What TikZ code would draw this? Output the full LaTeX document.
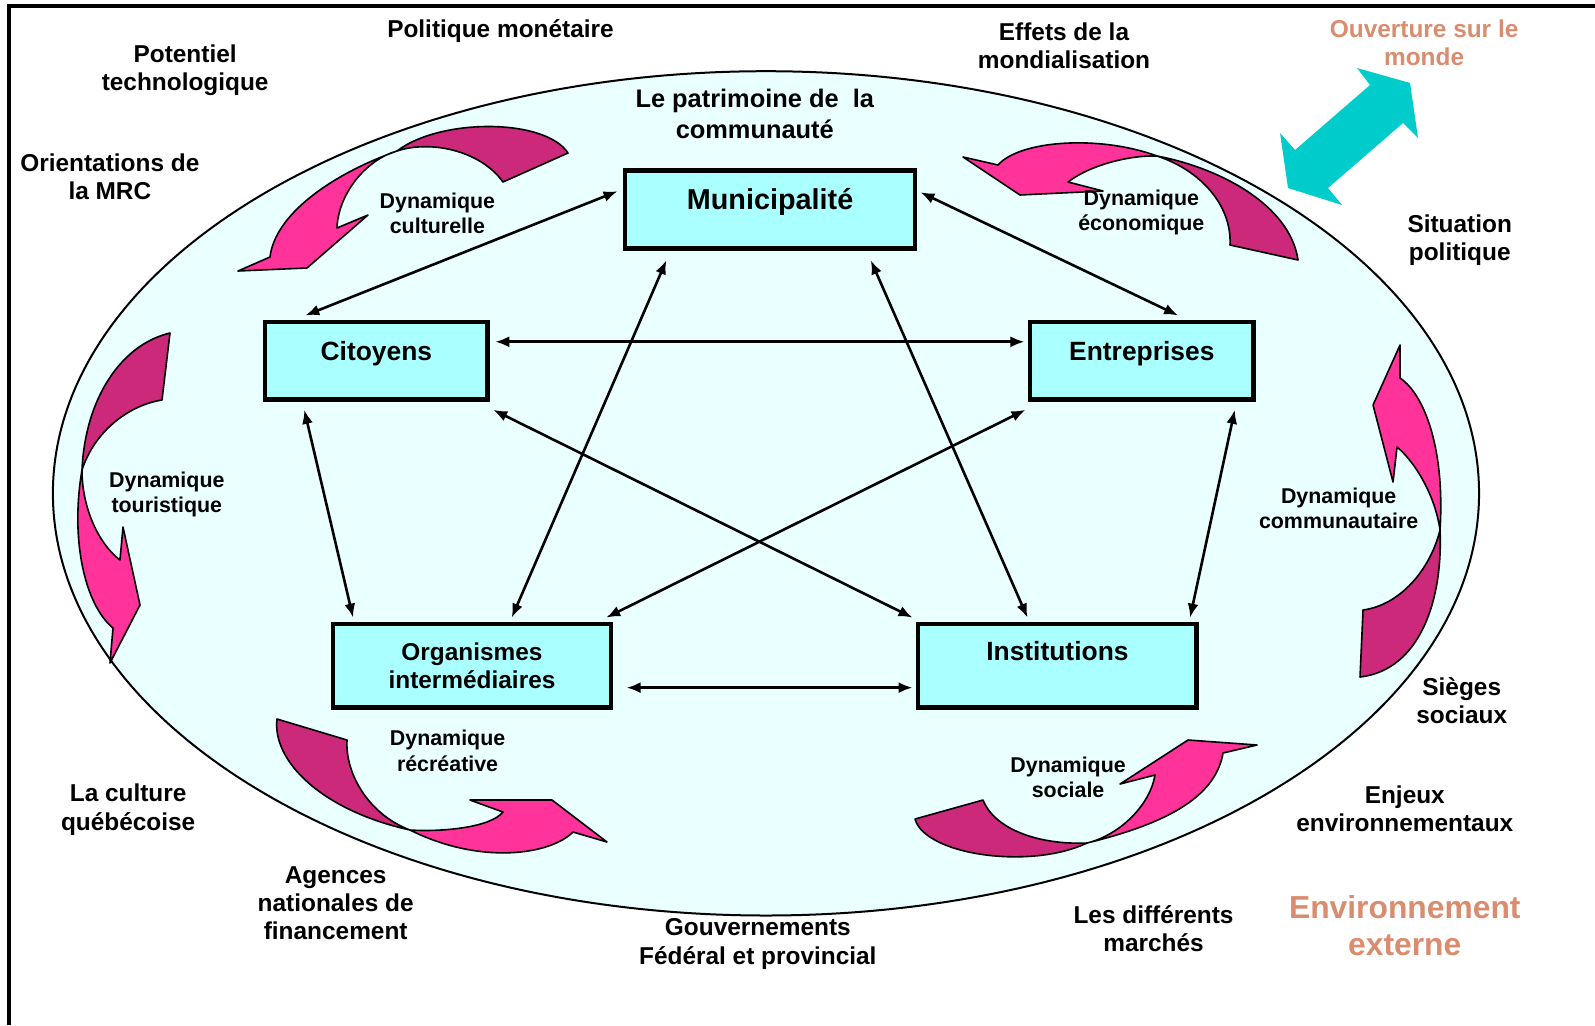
\documentclass[tikz,border=0pt]{standalone}
\usepackage{fontspec}
\setmainfont{Liberation Sans}
\usetikzlibrary{shapes,arrows.meta,calc}

\definecolor{boxcyan}{RGB}{170,255,255}
\definecolor{oval}{RGB}{234,255,255}
\definecolor{pinkfront}{RGB}{255,51,153}
\definecolor{pinkback}{RGB}{204,41,122}
\definecolor{turq}{RGB}{0,204,204}
\definecolor{saumon}{RGB}{217,140,110}

\tikzstyle{box} = [rectangle, draw=black, line width=2.4pt, fill=boxcyan, inner sep=0pt, font=\fontsize{13.2}{15}\selectfont\bfseries]
\tikzstyle{link} = [<->, line width=1.3pt]
\tikzstyle{ext} = [align=center, font=\fontsize{12.2}{14.2}\selectfont\bfseries]
\tikzstyle{dyn} = [align=center, font=\fontsize{10.7}{12.7}\selectfont\bfseries]
\tikzstyle{back} = [draw=black, line width=0.8pt, fill=pinkback, line join=round]
\tikzstyle{front} = [draw=black, line width=0.8pt, fill=pinkfront, line join=round]

\begin{document}
\begin{tikzpicture}[x=0.5086pt, y=-0.5086pt, >={Latex[length=7pt,width=5.5pt]}]
\useasboundingbox (0,0) rectangle (1568,1008);
\draw[line width=2pt] (9,1008) -- (9,6) -- (1568,6);

% le territoire
\draw[fill=oval, line width=1pt] (753,485) ellipse (701 and 415);

% les dynamiques (coordonnees de l'image pleine grandeur)
\begin{scope}[x=0.5pt, y=-0.5pt]
% culturelle
\fill[back] (568,153) .. controls (545,118) and (440,118) .. (397,151) .. controls (430,140) and (480,150) .. (503,182) -- cycle;
\fill[front] (397,151) .. controls (330,175) and (275,215) .. (270,257) -- (238,271) -- (307,268) -- (368,215) -- (337,228) .. controls (338,195) and (365,160) .. (397,151) -- cycle;
% economique
\fill[front] (998,165) .. controls (1020,140) and (1100,135) .. (1157,156) .. controls (1130,155) and (1090,165) .. (1068,182) -- (1103,191) -- (1020,195) -- (963,157) -- cycle;
\fill[back] (1157,156) .. controls (1220,168) and (1290,205) .. (1298,260) -- (1230,245) .. controls (1232,205) and (1200,170) .. (1157,156) -- cycle;
% touristique
\fill[back] (170,333) .. controls (120,345) and (85,400) .. (82,470) .. controls (95,430) and (130,405) .. (162,400) -- cycle;
\fill[front] (82,470) .. controls (70,540) and (85,605) .. (113,628) -- (110,663) -- (140,605) -- (123,527) -- (120,560) .. controls (100,545) and (82,510) .. (82,470) -- cycle;
% communautaire
\fill[front] (1400,378) -- (1400,345) -- (1373,405) -- (1393,482) -- (1397,447) .. controls (1415,462) and (1435,495) .. (1440,530) .. controls (1445,450) and (1425,395) .. (1400,378) -- cycle;
\fill[back] (1440,530) .. controls (1443,600) and (1420,670) .. (1360,677) -- (1363,610) .. controls (1400,605) and (1430,570) .. (1440,530) -- cycle;
% recreative
\fill[back] (277,719) .. controls (272,760) and (320,810) .. (410,830) .. controls (370,815) and (345,775) .. (347,740) -- cycle;
\fill[front] (410,830) .. controls (480,865) and (550,855) .. (573,832) -- (607,842) -- (552,800) -- (470,800) -- (503,812) .. controls (490,828) and (440,832) .. (410,830) -- cycle;
% sociale
\fill[back] (915,819) .. controls (925,855) and (1030,870) .. (1087,843) .. controls (1040,845) and (995,830) .. (983,800) -- cycle;
\fill[front] (1087,843) .. controls (1160,825) and (1215,800) .. (1223,753) -- (1257,745) -- (1188,740) -- (1120,784) -- (1155,775) .. controls (1150,805) and (1120,835) .. (1087,843) -- cycle;
% ouverture sur le monde
\fill[turq] (1357,68) -- (1410,83) -- (1418,138) -- (1403,123) -- (1328,188) -- (1342,205) -- (1288,188) -- (1280,133) -- (1295,150) -- (1370,85) -- cycle;
\end{scope}

% les acteurs
\node[box, minimum width=145pt, minimum height=39.2pt, text height=5pt, text depth=5pt, font=\fontsize{14.4}{16}\selectfont\bfseries] (muni) at (757,206) {Municipalité};
\node[box, minimum width=111.4pt, minimum height=38.7pt, text height=5pt, text depth=5pt] (citoyens) at (370,354.5) {Citoyens};
\node[box, minimum width=111.9pt, minimum height=38.7pt, text height=5pt, text depth=5pt] (entreprises) at (1122.5,354.5) {Entreprises};
\node[box, minimum width=138.9pt, minimum height=41.7pt, align=center, font=\fontsize{12.2}{14.2}\selectfont\bfseries] (organismes) at (464,654.5) {Organismes\\intermédiaires};
\node[box, minimum width=139.4pt, minimum height=41.7pt, text height=3pt, text depth=8.3pt] (institutions) at (1039.5,654.5) {Institutions};

\draw[link] ($(citoyens.north west)+(42,-4)$) -- ($(muni.west)+(-5,-18)$);
\draw[link] ($(muni.east)+(3,-17)$) -- ($(entreprises.north west)+(148,-4)$);
\draw[link] ($(muni.south west)+(43,9)$) -- ($(organismes.north west)+(178,-4)$);
\draw[link] ($(muni.south west)+(244,9)$) -- ($(institutions.north west)+(110,-4)$);
\draw[link] ($(citoyens.east)+(5,-18.5)$) -- ($(entreprises.west)+(-3,-18.5)$);
\draw[link] ($(citoyens.south west)+(41,8)$) -- ($(organismes.north west)+(22,-4)$);
\draw[link] ($(citoyens.south east)+(3,8)$) -- ($(institutions.north west)+(-3,-4)$);
\draw[link] ($(entreprises.south west)+(-2,8)$) -- ($(organismes.north east)+(-7,-4)$);
\draw[link] ($(entreprises.south east)+(-21,8)$) -- ($(institutions.north east)+(-9,-4)$);
\draw[link] ($(organismes.east)+(13,21.5)$) -- ($(institutions.west)+(-3,21.5)$);

% textes des dynamiques
\node[dyn] (dculture) at (430,210) {Dynamique\\culturelle};
\node[dyn] (deco) at (1122,209) {Dynamique\\économique};
\node[dyn] (dtourisme) at (164,486) {Dynamique\\touristique};
\node[dyn] (dcommun) at (1316,500) {Dynamique\\communautaire};
\node[dyn] (drecreatif) at (440,738) {Dynamique\\récréative};
\node[dyn] (dsocial) at (1050,764) {Dynamique\\sociale};

% environnement externe
\node[ext, font=\fontsize{12.7}{15.3}\selectfont\bfseries] (patrimoine) at (742,112) {Le patrimoine de\ \ la\\communauté};
\node[ext] (potentiel) at (182,69) {Potentiel\\technologique};
\node[ext] (monetaire) at (492,31) {Politique monétaire};
\node[ext] (mondial) at (1046,45) {Effets de la\\mondialisation};
\node[ext, text=saumon] (ouverture) at (1400,42) {Ouverture sur le\\monde};
\node[ext] (mrc) at (108,174) {Orientations de\\la MRC};
\node[ext] (politique) at (1435,236) {Situation\\politique};
\node[ext] (sieges) at (1437,689) {Sièges\\sociaux};
\node[ext] (enjeux) at (1381,795) {Enjeux\\environnementaux};
\node[ext] (culture) at (126,796) {La culture\\québécoise};
\node[ext] (agences) at (330,888) {Agences\\nationales de\\financement};
\node[ext] (gouv) at (745,928) {Gouvernements\\Fédéral et provincial};
\node[ext] (marches) at (1134,913) {Les différents\\marchés};
\node[ext, text=saumon, font=\fontsize{15.9}{18.8}\selectfont\bfseries] (externe) at (1381,910) {Environnement\\externe};

\end{tikzpicture}
\end{document}
